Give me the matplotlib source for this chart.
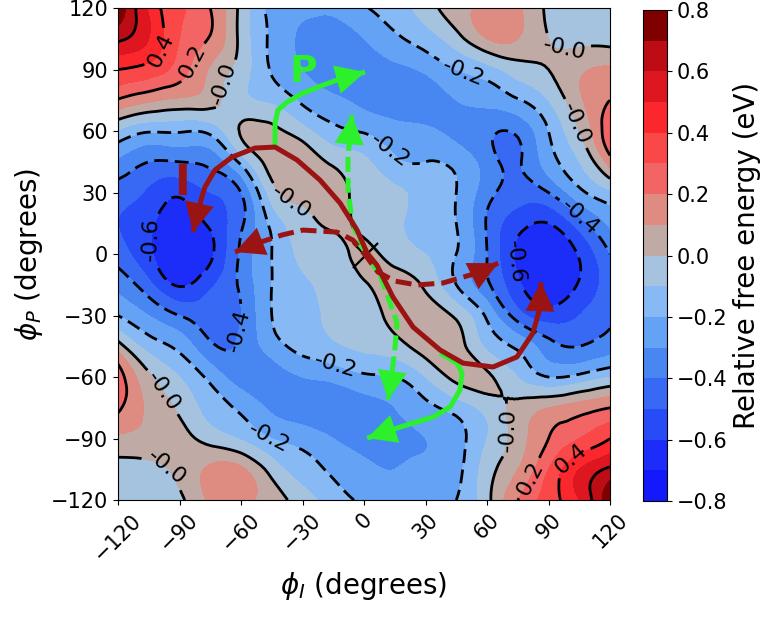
import numpy as np
import matplotlib
matplotlib.use("Agg")
import matplotlib.pyplot as plt
from matplotlib.tri import Triangulation, UniformTriRefiner

# ---------------- data ----------------
phi_I = [-120, -105, -90, -75, -60, -45, -30, -15, 0, 15, 30, 45, 60, 75, 90, 105, 120]
phi_P = [120, 105, 90, 75, 60, 45, 30, 15, 0, -15, -30, -45, -60, -75, -90, -105, -120]

# relative free energy (eV); one row per phi_P value (top row = +120)
energy_rows = [
    [0.78, 0.48, 0.32, 0.20, -0.03, -0.23, -0.27, -0.28, -0.21, -0.15, -0.05, 0.06, 0.13, 0.12, -0.02, -0.06, -0.08],
    [0.62, 0.50, 0.30, 0.19, -0.03, -0.22, -0.32, -0.35, -0.30, -0.22, -0.15, -0.04, 0.10, 0.10, 0.00, -0.03, -0.04],
    [0.40, 0.36, 0.25, 0.09, -0.05, -0.21, -0.30, -0.36, -0.36, -0.33, -0.28, -0.20, -0.14, -0.05, 0.00, 0.08, 0.12],
    [0.19, 0.12, 0.08, 0.04, -0.07, -0.12, -0.22, -0.28, -0.33, -0.37, -0.36, -0.30, -0.27, -0.21, -0.10, 0.08, 0.20],
    [-0.11, -0.19, -0.19, -0.17, 0.01, 0.03, -0.06, -0.17, -0.21, -0.26, -0.28, -0.33, -0.38, -0.38, -0.20, 0.00, 0.28],
    [-0.32, -0.40, -0.40, -0.37, -0.17, 0.05, 0.07, -0.02, -0.08, -0.18, -0.20, -0.23, -0.35, -0.41, -0.25, -0.10, 0.15],
    [-0.45, -0.52, -0.58, -0.50, -0.40, -0.05, 0.04, 0.05, -0.05, -0.08, -0.14, -0.20, -0.36, -0.45, -0.40, -0.23, -0.12],
    [-0.50, -0.58, -0.65, -0.58, -0.42, -0.17, -0.04, 0.02, -0.03, -0.08, -0.15, -0.20, -0.41, -0.56, -0.60, -0.45, -0.28],
    [-0.45, -0.58, -0.68, -0.62, -0.38, -0.20, -0.08, -0.04, 0.02, -0.04, -0.10, -0.20, -0.40, -0.62, -0.68, -0.59, -0.40],
    [-0.33, -0.47, -0.61, -0.52, -0.38, -0.20, -0.12, -0.06, -0.01, 0.04, -0.02, -0.20, -0.38, -0.58, -0.67, -0.59, -0.45],
    [-0.20, -0.30, -0.40, -0.45, -0.40, -0.20, -0.14, -0.07, -0.04, 0.03, 0.06, -0.02, -0.22, -0.45, -0.55, -0.50, -0.42],
    [0.05, -0.14, -0.23, -0.38, -0.38, -0.25, -0.17, -0.12, -0.08, -0.04, 0.05, 0.05, -0.12, -0.22, -0.36, -0.40, -0.35],
    [0.26, 0.02, -0.10, -0.23, -0.35, -0.36, -0.30, -0.27, -0.22, -0.20, -0.10, 0.03, 0.02, -0.10, -0.20, -0.17, -0.10],
    [0.22, 0.08, -0.02, -0.14, -0.22, -0.32, -0.36, -0.37, -0.34, -0.30, -0.23, -0.16, -0.06, 0.03, 0.10, 0.15, 0.20],
    [0.08, 0.07, 0.04, -0.04, -0.11, -0.20, -0.24, -0.30, -0.33, -0.32, -0.30, -0.24, -0.10, 0.05, 0.20, 0.30, 0.40],
    [-0.04, -0.03, 0.03, 0.12, 0.12, -0.04, -0.15, -0.22, -0.28, -0.30, -0.28, -0.23, -0.05, 0.10, 0.30, 0.50, 0.62],
    [-0.08, -0.06, -0.02, 0.12, 0.13, 0.05, -0.05, -0.15, -0.22, -0.27, -0.25, -0.20, -0.03, 0.20, 0.35, 0.50, 0.78],
]

fill_levels = [-0.8, -0.7, -0.6, -0.5, -0.4, -0.3, -0.2, -0.1, 0.0,
               0.1, 0.2, 0.3, 0.4, 0.5, 0.6, 0.7, 0.8]
band_colors = ['#1419fc', '#1c2dfa', '#284bf8', '#3769f5', '#4887f2', '#64a2f5',
               '#87b9f5', '#a5c3de', '#c0aaa5', '#de8c82', '#f36464', '#fa4848',
               '#fa282d', '#de1620', '#bc0c14', '#800000']
neg_line_levels = [-0.6, -0.4, -0.2]
pos_line_levels = [0.0, 0.2, 0.4, 0.6]
cbar_ticks = [-0.8, -0.6, -0.4, -0.2, 0.0, 0.2, 0.4, 0.6, 0.8]
axis_ticks = [-120, -90, -60, -30, 0, 30, 60, 90, 120]

# pathway annotations (degrees)
red_solid_x = [-83.4, -81.0, -77.6, -72.7, -64.4, -53.2, -43.4, -32.7, -21.5, -11.7, -3.4, 1.5,
               6.3, 14.1, 23.9, 37.1, 48.3, 62.9, 74.6, 82.4, 85.9, 86.3]
red_solid_y = [10.7, 21.5, 32.7, 41.0, 47.3, 51.7, 52.2, 45.9, 36.1, 24.9, 11.7, 0.5,
               -5.4, -21.0, -35.6, -46.8, -53.2, -55.1, -50.2, -38.5, -25.9, -13.7]
red_dashed_x = [-62.9, -51.7, -40.0, -29.8, -13.2, -5.4, 1.0, 6.8, 15.1, 25.9, 38.5, 46.8, 56.6, 65.4]
red_dashed_y = [1.0, 5.4, 9.3, 11.7, 10.7, 6.8, -1.0, -8.8, -13.2, -15.1, -14.1, -11.7, -8.8, -4.4]
green_top_x = [-43.4, -43.4, -42.0, -37.6, -29.8, -20.0, -10.2, 0.5]
green_top_y = [52.2, 63.9, 70.2, 74.1, 78.5, 82.4, 85.9, 88.8]
green_bottom_x = [37.1, 45.4, 47.8, 46.8, 42.0, 33.7, 17.6, 1.5]
green_bottom_y = [-48.3, -53.2, -58.0, -66.3, -74.6, -79.5, -84.4, -89.8]
green_dashed_x = [-5.9, -6.8, -7.8, -7.8, -5.9, -2.9, 2.0, 7.8, 11.7, 16.1, 15.1, 13.7, 11.7]
green_dashed_y = [67.8, 58.0, 47.3, 31.2, 16.6, 6.8, -1.5, -10.2, -21.0, -33.7, -45.4, -58.0, -71.2]
saddle_point = (0.5, -0.5)
label_P = (-29.8, 88.8)
label_I = (-88.8, 34.6)

# ---------------- figure ----------------
RED = '#9b1414'
GREEN = '#2cf02c'

fig = plt.figure(figsize=(7.79, 6.2), dpi=100)
ax = fig.add_axes([0.1515, 0.1935, 0.6316, 0.7935])
cax = fig.add_axes([0.8254, 0.1919, 0.0308, 0.7919])

Z = np.array(energy_rows)[::-1]
yv = np.array(phi_P)[::-1]
ny, nx = Z.shape
px = np.tile(np.array(phi_I, dtype=float), ny)
py = np.repeat(yv.astype(float), nx)
tris = []
for r in range(ny - 1):
    for c in range(nx - 1):
        a = r * nx + c
        b, d = a + 1, a + nx
        e = d + 1
        tris.append([a, b, d])
        tris.append([b, e, d])
tri = Triangulation(px, py, np.array(tris))
tri_f, z_f = UniformTriRefiner(tri).refine_field(Z.ravel(), subdiv=3)
z_f = np.clip(z_f, -0.795, 0.795)

cf = ax.tricontourf(tri_f, z_f, levels=fill_levels, colors=band_colors, zorder=1)
cs_neg = ax.tricontour(tri_f, z_f, levels=neg_line_levels, colors='k', linewidths=2.0, zorder=2)
cs_neg.set_linestyle((0, (5.0, 2.4)))
cs_pos = ax.tricontour(tri_f, z_f, levels=pos_line_levels, colors='k', linewidths=2.0,
                       linestyles='solid', zorder=2)

neg_fmt = {-0.6: '-0.6', -0.4: '-0.4', -0.2: '-0.2'}
pos_fmt = {0.0: '-0.0', 0.2: '0.2', 0.4: '0.4', 0.6: '0.6'}
neg_label_pos = [(48, 88), (14, 52), (107, 20), (73, -4), (-97, 7), (-66, -36), (-13, -52), (-46, -89)]
pos_label_pos = [(-99.5, 99.5), (-86, 94.6), (-67, 83), (98, 98), (104, 64), (-36, 24),
                 (-99, -68), (-93, -100), (70, -86), (80, -109), (99, -98)]
ax.clabel(cs_neg, fmt=neg_fmt, fontsize=16, inline=True, manual=neg_label_pos)
ax.clabel(cs_pos, fmt=pos_fmt, fontsize=16, inline=True, manual=pos_label_pos)


def path_arrow(xs, ys, color, ls, heads, z):
    ax.plot(xs, ys, color=color, lw=3.6, ls=ls, solid_capstyle='butt',
            dash_capstyle='butt', solid_joinstyle='round', zorder=z)
    for h in heads:
        if h == 'end':
            tip, base = (xs[-1], ys[-1]), (xs[-2], ys[-2])
        else:
            tip, base = (xs[0], ys[0]), (xs[1], ys[1])
        ax.annotate('', xy=tip, xytext=base, zorder=z + 0.5,
                    arrowprops=dict(arrowstyle='-|>,head_length=1.0,head_width=0.5',
                                    mutation_scale=21, color=color, lw=0,
                                    shrinkA=0, shrinkB=0))


ax.plot(*saddle_point, marker='x', color='k', ms=18, mew=1.6, zorder=4)
path_arrow(green_top_x, green_top_y, GREEN, '-', ['end'], 5)
path_arrow(green_bottom_x, green_bottom_y, GREEN, '-', ['end'], 5)
path_arrow(green_dashed_x, green_dashed_y, GREEN, (0, (3.0, 1.2)), ['start', 'end'], 5)
path_arrow(red_solid_x, red_solid_y, RED, '-', ['start', 'end'], 6)
path_arrow(red_dashed_x, red_dashed_y, RED, (0, (3.2, 1.4)), ['start', 'end'], 6)

ax.text(*label_P, 'P', color=GREEN, fontsize=27, fontweight='bold',
        ha='center', va='center', zorder=7)
ax.text(*label_I, 'I', color=RED, fontsize=30, fontweight='bold',
        ha='center', va='center', zorder=7)

ax.set_xlim(-120, 120)
ax.set_ylim(-120, 120)
ax.set_xticks(axis_ticks)
ax.set_yticks(axis_ticks)
ax.tick_params(labelsize=15)
plt.setp(ax.get_xticklabels(), rotation=45)
ax.set_xlabel(r'$\phi_I$ (degrees)', fontsize=20)
ax.set_ylabel(r'$\phi_P$ (degrees)', fontsize=20)

cb = fig.colorbar(cf, cax=cax, ticks=cbar_ticks)
cb.ax.tick_params(labelsize=15)
cb.set_label('Relative free energy (eV)', fontsize=20)

fig.savefig('out.png', dpi=100)
